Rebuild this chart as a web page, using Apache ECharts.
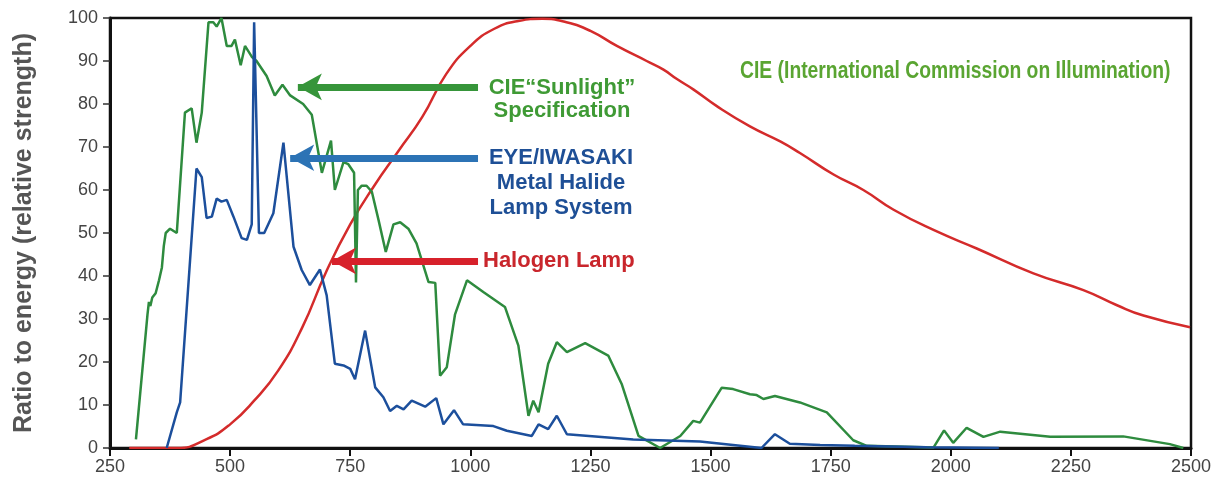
<!DOCTYPE html>
<html>
<head>
<meta charset="utf-8">
<script src="https://cdn.jsdelivr.net/npm/echarts@6/dist/echarts.min.js"></script>
<style>
  html, body { margin: 0; padding: 0; background: #fff; }
  #chart { width: 1215px; height: 488px; }
</style>
</head>
<body>
<div id="chart"></div>
<script>
// wavelength (nm) / relative strength
const sunX = [304, 328, 331, 334, 338, 345, 352, 358, 362, 366, 375, 389, 406, 420, 430, 441, 455, 465, 472, 482, 493, 503, 510, 522, 531, 545, 555, 576, 593, 609, 625, 652, 670, 691, 710, 718, 736, 746, 758, 762, 766, 774, 784, 795, 809, 824, 840, 854, 871, 888, 913, 927, 937, 951, 968, 993, 1027, 1072, 1100, 1121, 1131, 1142, 1162, 1180, 1201, 1239, 1287, 1315, 1350, 1395, 1437, 1464, 1478, 1523, 1547, 1582, 1596, 1610, 1634, 1686, 1742, 1797, 1825, 1964, 1986, 2005, 2033, 2068, 2103, 2207, 2359, 2456, 2484]
const sunY = [2, 31, 34, 33, 35, 36, 39, 42, 47, 50, 51, 50, 78, 79, 71, 78, 99, 99, 98, 100, 93.5, 93.5, 95, 89, 93.5, 91, 90, 86.5, 82, 84.5, 82, 80, 77.5, 64, 71.5, 60, 66.5, 66, 64, 38.5, 60, 61, 61, 59.6, 53, 45.6, 52, 52.5, 51, 47.6, 38.6, 38.4, 16.8, 18.8, 31, 39, 36.3, 32.8, 23.8, 7.5, 11, 8.3, 19.6, 24.6, 22.3, 24.4, 21.5, 14.9, 2.8, 0, 2.8, 6.3, 5.9, 14, 13.7, 12.5, 12.3, 11.4, 12.1, 10.6, 8.3, 1.8, 0.5, 0.1, 4.1, 1.2, 4.7, 2.6, 3.8, 2.6, 2.7, 0.9, 0]

const mhX = [368, 389, 396, 430, 441, 451, 462, 472, 482, 493, 507, 524, 535, 545, 550, 560, 571, 590, 611, 632, 649, 666, 687, 701, 718, 736, 750, 760, 781, 802, 819, 833, 847, 861, 878, 906, 929, 944, 966, 985, 1048, 1076, 1128, 1142, 1162, 1180, 1201, 1339, 1478, 1606, 1634, 1665, 1728, 1800, 1950, 2100]
const mhY = [0, 8.3, 10.6, 65, 63, 53.5, 53.8, 58, 57.3, 57.7, 53.8, 48.8, 48.4, 52, 99, 50, 50, 54.6, 71, 46.8, 41.4, 37.9, 41.5, 35.5, 19.6, 19.2, 18.4, 16, 27.3, 14.1, 11.8, 8.6, 9.8, 9, 11, 9.6, 11.6, 5.5, 8.8, 5.5, 5.1, 4, 2.8, 5.5, 4.4, 7.5, 3.2, 2, 1.5, 0, 3.2, 1, 0.7, 0.5, 0.2, 0]

const halX = [290, 390, 450, 500, 550, 600, 650, 700, 750, 800, 850, 900, 950, 1000, 1050, 1100, 1150, 1200, 1250, 1305, 1367, 1402, 1430, 1464, 1513, 1582, 1645, 1686, 1756, 1818, 1881, 1964, 2054, 2172, 2276, 2346, 2401, 2498]
const halY = [0, 0, 2, 5.5, 11, 18, 28, 41, 52, 61, 69, 77, 87, 93.5, 97.5, 99.3, 99.8, 99, 97, 93.5, 90, 88, 85.8, 83.4, 79.5, 74.8, 71.3, 68.6, 63.6, 60, 55.4, 50.7, 46.4, 40.6, 36.7, 33.2, 30.8, 28.1]

const xTicks = [250, 500, 750, 1000, 1250, 1500, 1750, 2000, 2250, 2500]

function pairs(xs, ys) {
  return xs.map((x, i) => [x, ys[i]])
}

const chart = echarts.init(document.getElementById('chart'))

function arrow(color, y, x1, x2) {
  return {
    silent: true,
    symbol: ['none', 'arrow'],
    symbolSize: [20, 24],
    label: { show: false },
    lineStyle: { color: color, width: 7, type: 'solid' },
    data: [[{ coord: [x1, y] }, { coord: [x2, y] }]]
  }
}

const noteFont = '"Liberation Sans", Arial, sans-serif'

// centred note lines
function note(text, color, x, y, align) {
  return {
    type: 'text',
    x: x,
    y: y,
    style: {
      text: text,
      fill: color,
      font: 'bold 22px ' + noteFont,
      align: align || 'center',
      verticalAlign: 'middle'
    }
  }
}

chart.setOption({
  backgroundColor: '#fff',
  animation: false,
  grid: {
    left: 110,
    right: 24,
    top: 18,
    bottom: 40,
    show: true,
    borderColor: '#111',
    borderWidth: 2.5
  },
  xAxis: {
    type: 'value',
    min: xTicks[0],
    max: xTicks[xTicks.length - 1],
    interval: 250,
    axisLine: { onZero: false, lineStyle: { color: '#111', width: 3 } },
    axisTick: { length: 8, lineStyle: { color: '#111', width: 2 } },
    axisLabel: {
      color: '#444',
      fontSize: 18,
      margin: 10,
      fontFamily: noteFont,
      formatter: v => String(v)
    },
    splitLine: { show: false }
  },
  yAxis: {
    type: 'value',
    min: 0,
    max: 100,
    interval: 10,
    name: 'Ratio to energy (relative strength)',
    nameLocation: 'middle',
    nameGap: 73,
    nameTextStyle: { color: '#555', fontSize: 25, fontWeight: 'bold', fontFamily: noteFont },
    axisLine: { show: true, lineStyle: { color: '#111', width: 3 } },
    axisTick: { show: true, length: 7, lineStyle: { color: '#333', width: 1.5 } },
    axisLabel: { color: '#444', fontSize: 18, margin: 12, fontFamily: noteFont },
    splitLine: { show: false }
  },
  series: [{
    name: 'Halogen Lamp',
    type: 'line',
    smooth: true,
    showSymbol: false,
    z: 2,
    lineStyle: { color: '#d42b2b', width: 2.5 },
    data: pairs(halX, halY),
    markLine: arrow('#d7212b', 43.5, 1016, 712)
  }, {
    name: 'CIE Sunlight',
    type: 'line',
    showSymbol: false,
    z: 3,
    lineStyle: { color: '#2e8b3e', width: 2.5 },
    data: pairs(sunX, sunY),
    markLine: arrow('#36953a', 84, 1016, 641)
  }, {
    name: 'EYE/IWASAKI',
    type: 'line',
    showSymbol: false,
    z: 4,
    lineStyle: { color: '#1c4f9c', width: 2.5 },
    data: pairs(mhX, mhY),
    markLine: arrow('#2c73b5', 67.5, 1016, 625)
  }],
  graphic: [
    note('CIE\u201cSunlight\u201d', '#3f9a35', 562, 88),
    note('Specification', '#3f9a35', 562, 111),
    note('EYE/IWASAKI', '#1e4f96', 561, 158),
    note('Metal Halide', '#1e4f96', 561, 183),
    note('Lamp System', '#1e4f96', 561, 208),
    note('Halogen Lamp', '#c9262c', 483, 261, 'left'),
    {
      type: 'text',
      x: 740,
      y: 72,
      scaleX: 0.84,
      style: {
        text: 'CIE (International Commission on Illumination)',
        fill: '#5aa532',
        font: 'bold 23px ' + noteFont,
        verticalAlign: 'middle'
      }
    }
  ]
})
</script>
</body>
</html>
